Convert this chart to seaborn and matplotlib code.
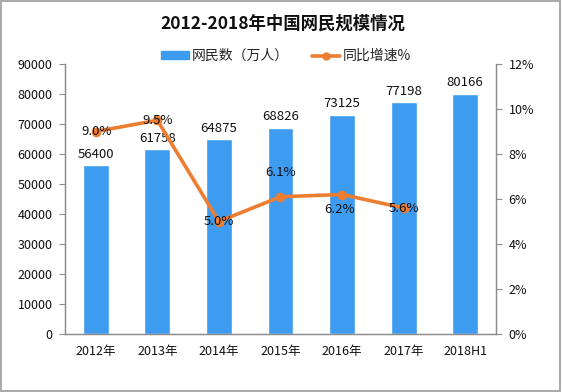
import numpy as np
import pandas as pd
import matplotlib
matplotlib.use('Agg')
import matplotlib.pyplot as plt
import seaborn as sns
from matplotlib.patches import Rectangle

sns.set_style('white')
plt.rcParams['font.family'] = ['Noto Sans CJK SC', 'DejaVu Sans']

years = ['2012年', '2013年', '2014年', '2015年', '2016年', '2017年', '2018H1']
users = [56400, 61758, 64875, 68826, 73125, 77198, 80166]
growth_years = ['2012年', '2013年', '2014年', '2015年', '2016年', '2017年']
growth = [9.0, 9.5, 5.0, 6.1, 6.2, 5.6]
# label offsets in pixels (dx, dy) relative to each point
growth_offsets = [(1, 0), (0, 0), (0, 0), (0, 24), (-3, -15), (0, 0)]

bar_color = '#3d9cf0'
line_color = '#ed7d31'
axis_color = '#8c8c8c'

df_bar = pd.DataFrame({'year': years, 'users': users})
df_line = pd.DataFrame({'year': growth_years, 'growth': growth})

fig = plt.figure(figsize=(5.62, 3.92), dpi=100)
ax = fig.add_axes([65 / 562, 1 - 334 / 392, 431 / 562, 270 / 392])

sns.barplot(data=df_bar, x='year', y='users', order=years, color=bar_color,
            width=0.42, saturation=1, ax=ax)
ax.set_ylim(0, 90000)
ax.set_yticks(np.arange(0, 90001, 10000))
ax.set_xlim(-0.5, len(years) - 0.5)
for i, v in enumerate(users):
    ax.annotate(str(v), (i, v), xytext=(0, 3), textcoords='offset points',
                ha='center', va='bottom', fontsize=9.5, color='#111111')

ax2 = ax.twinx()
sns.pointplot(data=df_line, x='year', y='growth', order=years, color=line_color,
              markers='o', markersize=5, linewidth=2.6, ax=ax2)
ax2.set_ylim(0, 12)
ax2.set_yticks(np.arange(0, 12.1, 2))
ax2.set_yticklabels([f'{int(t)}%' for t in np.arange(0, 12.1, 2)])
ax2.set_xlim(-0.5, len(years) - 0.5)
for i, (v, off) in enumerate(zip(growth, growth_offsets)):
    ax2.annotate(f'{v:.1f}%', (i, v), xytext=off, textcoords='offset pixels',
                 ha='center', va='center', fontsize=9.5, color='#111111', zorder=5)

for a in (ax, ax2):
    a.set_xlabel('')
    a.set_ylabel('')
    a.spines['top'].set_visible(False)
    for s in ('left', 'right', 'bottom'):
        a.spines[s].set_color(axis_color)
        a.spines[s].set_linewidth(0.9)

ax.set_xticks(range(len(years)))
ax.set_xticklabels(years)
ax.set_xticks(np.arange(-0.5, len(years)), minor=True)
ax.tick_params(axis='x', which='major', length=0, pad=8, labelsize=9, colors='#111111')
ax.tick_params(axis='x', which='minor', length=4, color=axis_color, direction='out')
ax.tick_params(axis='y', length=4, color=axis_color, direction='out', labelsize=9,
               labelcolor='#111111', pad=5)
ax2.tick_params(axis='y', length=4, color=axis_color, direction='out', labelsize=9,
                labelcolor='#111111', pad=5)

fig.text(283 / 562, 1 - 24 / 392, '2012-2018年中国网民规模情况', ha='center', va='center',
         fontsize=12.5, fontweight='bold', color='#111111')

handles = [Rectangle((0, 0), 1, 1, color=bar_color),
           plt.Line2D([0], [0], color=line_color, lw=2.6, marker='o', markersize=5)]
fig.legend(handles, ['网民数（万人）', '同比增速%'], loc='center',
           bbox_to_anchor=(286 / 562, 1 - 56 / 392), ncol=2, frameon=False,
           fontsize=10, handlelength=2.0, handleheight=0.5, columnspacing=1.7,
           handletextpad=0.2)

fig.patches.append(Rectangle((0.002, 0.003), 0.995, 0.994, transform=fig.transFigure,
                             fill=False, edgecolor='#999999', linewidth=1.2))

fig.savefig('out.png', dpi=100)
